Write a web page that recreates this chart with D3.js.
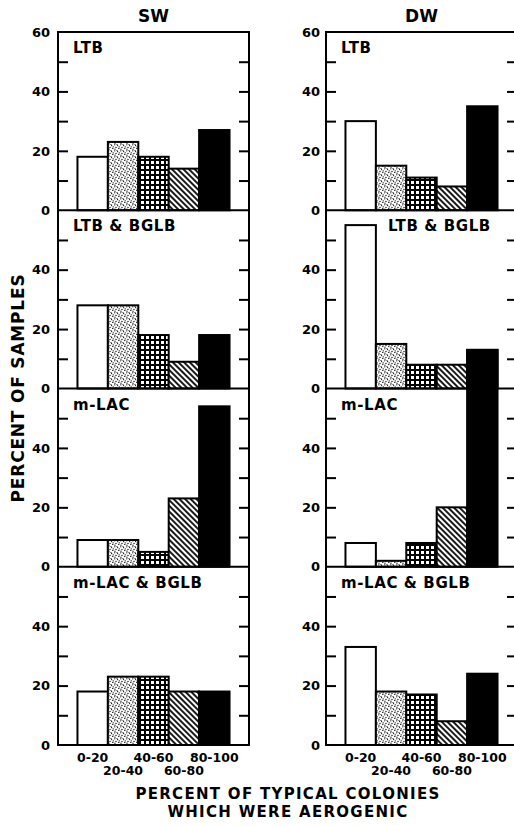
<!DOCTYPE html>
<html lang="en">
<head>
<meta charset="UTF-8">
<title>Percent of samples by aerogenic colonies</title>
<style>
  body { margin: 0; background: #fff; }
  svg text { font-family: "DejaVu Sans", sans-serif; font-weight: bold; fill: #000; }
</style>
</head>
<body>
<script src="https://d3js.org/d3.v7.min.js"></script>
<div id="chart"></div>
<script>

// data
const bins = ["0-20", "20-40", "40-60", "60-80", "80-100"];
const groups = ["LTB", "LTB & BGLB", "m-LAC", "m-LAC & BGLB"];
const sources = ["SW", "DW"];

const swLTB      = [18, 23, 18, 14, 27];
const swLTBBGLB  = [28, 28, 18, 9, 18];
const swMLAC     = [9, 9, 5, 23, 54];
const swMLACBGLB = [18, 23, 23, 18, 18];

const dwLTB      = [30, 15, 11, 8, 35];
const dwLTBBGLB  = [55, 15, 8, 8, 13];
const dwMLAC     = [8, 2, 8, 20, 73];
const dwMLACBGLB = [33, 18, 17, 8, 24];

const yTicks = [0, 20, 40];
const yMinor = [10, 20, 30, 40, 50];

const values = {
  SW: [swLTB, swLTBBGLB, swMLAC, swMLACBGLB],
  DW: [dwLTB, dwLTBBGLB, dwMLAC, dwMLACBGLB]
};

// layout
const W = 514, H = 826;
const colLeft = [58, 326], colW = 191;
const top0 = 32, panelH = 178.25;

const svg = d3.select("#chart").append("svg")
  .attr("width", W).attr("height", H);

// fill patterns for the five classes
const defs = svg.append("defs");

let dots = defs.append("pattern").attr("id", "p-dots")
  .attr("patternUnits", "userSpaceOnUse").attr("width", 6).attr("height", 6);
dots.append("rect").attr("width", 6).attr("height", 6).attr("fill", "#fff");
[[0.8,0.8],[3.6,1.6],[2.0,3.4],[4.8,4.4],[1.0,5.2],[5.2,2.8],[3.0,0.2]].forEach(p =>
  dots.append("circle").attr("cx", p[0]).attr("cy", p[1]).attr("r", 0.65).attr("fill", "#000"));

let grid = defs.append("pattern").attr("id", "p-grid")
  .attr("patternUnits", "userSpaceOnUse").attr("width", 5).attr("height", 5);
grid.append("rect").attr("width", 5).attr("height", 5).attr("fill", "#000");
grid.append("rect").attr("x", 1).attr("y", 1).attr("width", 3).attr("height", 3).attr("fill", "#fff");

let hatch = defs.append("pattern").attr("id", "p-hatch")
  .attr("patternUnits", "userSpaceOnUse").attr("width", 4).attr("height", 4)
  .attr("patternTransform", "rotate(45)");
hatch.append("rect").attr("width", 4).attr("height", 4).attr("fill", "#fff");
hatch.append("line").attr("x1", 0).attr("x2", 4).attr("y1", 2).attr("y2", 2)
  .attr("stroke", "#000").attr("stroke-width", 1.8);

const fills = ["#fff", "url(#p-dots)", "url(#p-grid)", "url(#p-hatch)", "#000"];

sources.forEach((src, c) => {
  const x0 = colLeft[c];
  const x = d3.scaleBand().domain(bins)
    .range([x0, x0 + colW]).paddingInner(0).paddingOuter(0.64);

  const col = svg.append("g");

  // column title
  col.append("text")
    .attr("x", x0 + colW / 2).attr("y", 22)
    .attr("text-anchor", "middle")
    .style("font-size", "17px")
    .text(src);

  groups.forEach((grp, r) => {
    const zero = top0 + panelH * (r + 1);
    const y = d3.scaleLinear().domain([0, 60]).range([zero, zero - panelH]);
    const vals = values[src][r];
    const g = col.append("g");

    // bars
    g.selectAll("rect.bar")
      .data(vals)
      .join("rect")
      .attr("class", "bar")
      .attr("x", (d, i) => x(bins[i]))
      .attr("width", x.bandwidth())
      .attr("y", d => y(d))
      .attr("height", d => y(0) - y(d))
      .attr("fill", (d, i) => fills[i])
      .attr("stroke", "#000")
      .attr("stroke-width", 2);

    // inner ticks on both sides
    g.append("g")
      .attr("transform", `translate(${x0},0)`)
      .call(d3.axisLeft(y).tickValues(yMinor).tickSize(-10).tickFormat(""))
      .call(a => a.select(".domain").remove())
      .call(a => a.selectAll("line").attr("stroke-width", 2));
    g.append("g")
      .attr("transform", `translate(${x0 + colW},0)`)
      .call(d3.axisRight(y).tickValues(yMinor).tickSize(-10).tickFormat(""))
      .call(a => a.select(".domain").remove())
      .call(a => a.selectAll("line").attr("stroke-width", 2));

    // tick labels
    g.append("g")
      .attr("transform", `translate(${x0},0)`)
      .call(d3.axisLeft(y).tickValues(r === 0 ? yTicks.concat([60]) : yTicks)
        .tickSize(0).tickPadding(c === 0 ? 8 : 6))
      .call(a => a.select(".domain").remove())
      .call(a => a.selectAll("text").style("font-size", "13px")
        .style("font-family", "'DejaVu Sans', sans-serif").style("font-weight", "bold"));

    // panel name; shifted right when the first bar is in the way
    const lx = vals[0] > 45 ? x(bins[1]) + 12 : x0 + 15;
    g.append("text")
      .attr("x", lx).attr("y", zero - panelH + 21)
      .style("font-size", "15px")
      .style("letter-spacing", "0.6px")
      .text(grp);

    // panel baseline
    g.append("line")
      .attr("x1", x0).attr("x2", x0 + colW)
      .attr("y1", zero).attr("y2", zero)
      .attr("stroke", "#000").attr("stroke-width", 2);
  });

  // frame
  col.append("rect")
    .attr("x", x0).attr("y", top0)
    .attr("width", colW).attr("height", panelH * 4)
    .attr("fill", "none").attr("stroke", "#000").attr("stroke-width", 2);

  // category labels, staggered on two rows
  const bottom = top0 + panelH * 4;
  col.append("g").selectAll("text")
    .data(bins)
    .join("text")
    .attr("x", d => x(d) + x.bandwidth() / 2)
    .attr("y", (d, i) => bottom + (i % 2 === 0 ? 17 : 30))
    .attr("text-anchor", "middle")
    .style("font-size", "12.5px")
    .text(d => d);
});

// axis titles
svg.append("text")
  .attr("transform", "translate(24,388) rotate(-90)")
  .attr("text-anchor", "middle")
  .style("font-size", "17px")
  .style("letter-spacing", "0.8px")
  .text("PERCENT OF SAMPLES");

svg.append("text")
  .attr("x", 288).attr("y", 799)
  .attr("text-anchor", "middle")
  .style("font-size", "15px")
  .style("letter-spacing", "1.3px")
  .text("PERCENT OF TYPICAL COLONIES");
svg.append("text")
  .attr("x", 288).attr("y", 817)
  .attr("text-anchor", "middle")
  .style("font-size", "15px")
  .style("letter-spacing", "1.3px")
  .text("WHICH WERE AEROGENIC");

</script>
</body>
</html>
